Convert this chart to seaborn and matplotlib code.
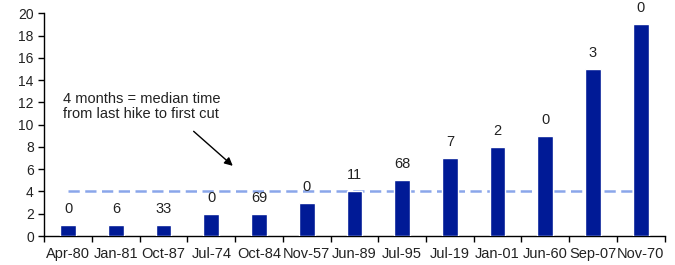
import pandas as pd
import seaborn as sns
import matplotlib.pyplot as plt

# months from last hike to first cut, by episode
episodes = ['Apr-80', 'Jan-81', 'Oct-87', 'Jul-74', 'Oct-84', 'Nov-57', 'Jun-89',
            'Jul-95', 'Jul-19', 'Jan-01', 'Jun-60', 'Sep-07', 'Nov-70']
months = [1, 1, 1, 2, 2, 3, 4, 5, 7, 8, 9, 15, 19]
bar_labels = ['0', '6', '33', '0', '69', '0', '11', '68', '7', '2', '0', '3', '0']
median_months = 4

sns.set_style('ticks')
plt.rcParams['font.family'] = ['Liberation Sans', 'DejaVu Sans']

df = pd.DataFrame({'episode': episodes, 'months': months})

fig = plt.figure(figsize=(6.75, 2.65), dpi=100)
ax = fig.add_axes([0.0656, 0.1094, 0.919, 0.8406])

sns.barplot(data=df, x='episode', y='months', color='#001a96', width=0.33,
            saturation=1, ax=ax, zorder=3)

ax.hlines(median_months, 0, len(episodes) - 1, colors='#8aa6ea', linestyles=(0, (4.5, 2.2)),
          linewidth=1.8, zorder=2)

ax.bar_label(ax.containers[0], labels=bar_labels, padding=6.5, fontsize=10.5, color='#222222')

ax.text(-0.1, 11.6, '4 months = median time\nfrom last hike to first cut',
        fontsize=10.5, color='#222222', ha='left', va='center', linespacing=1.1)
ax.annotate('', xy=(3.45, 6.3), xytext=(2.63, 9.4),
            arrowprops=dict(arrowstyle='-|>', color='black', lw=1, shrinkA=0, shrinkB=0,
                            mutation_scale=12))

ax.set_xlim(-0.5, len(episodes) - 0.5)
ax.set_ylim(0, 20)
ax.set_yticks(range(0, 21, 2))
ax.set_xticks([i - 0.5 for i in range(len(episodes) + 1)], minor=False)
ax.set_xticklabels([])
ax.set_xticks(range(len(episodes)), minor=True)
ax.set_xticklabels(episodes, minor=True)
ax.tick_params(axis='x', which='minor', length=0, pad=8, labelsize=10.5, labelcolor='#222222')
ax.tick_params(axis='x', which='major', length=4, width=1, color='black')
ax.tick_params(axis='y', length=4, width=1, labelsize=10, labelcolor='#222222', color='black')
ax.set_xlabel('')
ax.set_ylabel('')
for s in ['left', 'bottom']:
    ax.spines[s].set_color('black')
    ax.spines[s].set_linewidth(1)
sns.despine(ax=ax)

fig.savefig('out.png', dpi=100)
